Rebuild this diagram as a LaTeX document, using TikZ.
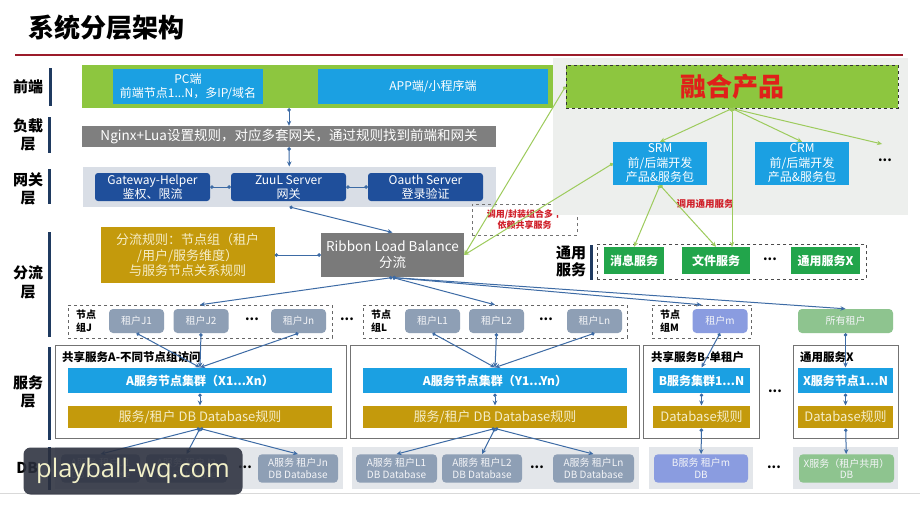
\documentclass[tikz,border=0pt]{standalone}
\usepackage{fontspec}
\setmainfont{Noto Sans CJK SC}
\newfontfamily\wmfont{Open Sans}
\usetikzlibrary{arrows.meta}

\definecolor{titlered}{HTML}{9B1B2A}
\definecolor{barblue}{HTML}{1F3A60}
\definecolor{fegreen}{HTML}{8DC63F}
\definecolor{skyblue}{HTML}{1BA0E2}
\definecolor{nggray}{HTML}{7F7F7F}
\definecolor{gatebg}{HTML}{D9DEE6}
\definecolor{gatedark}{HTML}{1F4F9B}
\definecolor{rulegold}{HTML}{C49A0C}
\definecolor{goldtext}{HTML}{F5EDC8}
\definecolor{ribgray}{HTML}{7A7A7A}
\definecolor{annred}{HTML}{D0202A}
\definecolor{prodred}{HTML}{E0201A}
\definecolor{panelbg}{HTML}{EDEFED}
\definecolor{tenantgray}{HTML}{8E9FB5}
\definecolor{tenantm}{HTML}{8A9CE0}
\definecolor{allgreen}{HTML}{8EC48F}
\definecolor{csgreen}{HTML}{22A54B}
\definecolor{dbpanelgray}{HTML}{E3E6EA}
\definecolor{lineblue}{HTML}{3D6BA5}
\definecolor{linegreen}{HTML}{9DCB5C}
\definecolor{wmdark}{HTML}{2B2F3D}
\definecolor{wmtext}{HTML}{F2F0C8}

\begin{document}
\begin{tikzpicture}[x=1pt, y=-1pt,
    every node/.style={inner sep=0pt, align=center},
    lay/.style={font=\fontsize{15}{18.5}\selectfont\bfseries},
    laybar/.style={draw=barblue, line width=3pt},
    sky/.style={fill=skyblue, text=white, font=\fontsize{12}{14.5}\selectfont},
    gate/.style={fill=gatedark, text=white, rounded corners=3pt, minimum width=115, minimum height=28, font=\fontsize{12}{14}\selectfont},
    tenant/.style={fill=tenantgray, text=white!90!tenantgray, rounded corners=4pt, minimum width=55, minimum height=24, font=\fontsize{10}{12}\selectfont},
    grpbox/.style={draw=black!60, dashed, minimum height=33},
    grplbl/.style={font=\fontsize{10}{13}\selectfont\bfseries, align=left, anchor=west},
    svcbox/.style={draw=black!55, line width=0.8pt, minimum height=93},
    svctitle/.style={font=\fontsize{11.5}{13}\selectfont\bfseries, anchor=west},
    clus/.style={fill=skyblue, text=white, minimum height=25.6, font=\fontsize{12}{14}\selectfont\bfseries},
    dbrule/.style={fill=rulegold, text=goldtext, minimum height=22.6, font=\fontsize{13}{15}\selectfont},
    dbpanel/.style={fill=dbpanelgray, minimum height=42.3},
    dbbox/.style={fill=tenantgray, text=white!90!tenantgray, rounded corners=4pt, minimum height=28.4, font=\fontsize{10}{11.5}\selectfont},
    cs/.style={fill=csgreen, text=white, minimum height=27, font=\fontsize{12}{14}\selectfont\bfseries},
    dots/.style={font=\fontsize{13}{13}\selectfont\bfseries},
    link/.style={draw=lineblue, line width=1pt, {Circle[length=3.5pt]}-{Stealth[length=5pt, width=4.5pt]}},
    glink/.style={draw=linegreen, line width=1pt, {Circle[length=3.5pt]}-{Stealth[length=5pt, width=4.5pt]}},
    dotline/.style={draw=lineblue, line width=1pt, {Circle[length=3.5pt]}-{Circle[length=3.5pt]}}]
    \useasboundingbox[fill=white] (0,0) rectangle (920,517);

    % Title
    \node[font=\fontsize{26}{28}\selectfont\bfseries, anchor=west] (title) at (28,28) {系统分层架构};
    \draw[titlered, line width=1.5pt] (15,55) -- (903,55);

    % Layer labels
    \node[lay] (Lfe) at (28,87) {前端};
    \node[lay] (Llb) at (28,135) {负载\\层};
    \node[lay] (Lgw) at (28,189) {网关\\层};
    \node[lay] (Lsp) at (28,282.5) {分流\\层};
    \node[lay] (Lsv) at (28,392) {服务\\层};
    \node[lay] (Ldb) at (27,468) {DB};
    \draw[laybar] (50,68) -- (50,106);
    \draw[laybar] (49,117) -- (49,153);
    \draw[laybar] (49,169) -- (49,204);
    \draw[laybar] (49,232) -- (49,337);
    \draw[laybar] (49,347) -- (49,440);
    \draw[laybar] (49,447) -- (49,490);

    % Front end
    \node[fill=fegreen, minimum width=473, minimum height=43] (fe) at (318.5,86.5) {};
    \node[sky, minimum width=150, minimum height=35] (pc) at (188,86.5) {PC端\\前端节点1...N，多IP/域名};
    \node[sky, minimum width=230, minimum height=35] (app) at (433,86.5) {APP端/小程序端};

    % Load layer and gateway
    \node[fill=nggray, text=white, minimum width=414, minimum height=21, font=\fontsize{13.5}{15}\selectfont] (nginx) at (289,136.5) {Nginx+Lua设置规则，对应多套网关，通过规则找到前端和网关};
    \node[fill=gatebg, minimum width=413, minimum height=40] (gw) at (289.5,186.7) {};
    \node[gate] (helper) at (152.5,187) {Gateway-Helper\\鉴权、限流};
    \node[gate] (zuul) at (288.5,187) {ZuuL Server\\网关};
    \node[gate] (oauth) at (425.5,187) {Oauth Server\\登录验证};

    % Split layer
    \node[fill=rulegold, text=goldtext, minimum width=174, minimum height=55.4, font=\fontsize{13}{15.5}\selectfont] (rule) at (187.5,255) {分流规则：节点组（租户\\/用户/服务维度）\\与服务节点关系规则};
    \node[fill=ribgray, text=white, minimum width=143, minimum height=44.6, font=\fontsize{13.5}{16}\selectfont] (ribbon) at (392.5,255) {Ribbon Load Balance\\分流};
    \node[draw=black!55, dashed, minimum width=105, minimum height=31, text=annred, font=\fontsize{9}{11}\selectfont\bfseries] (note) at (524.5,219.5) {调用/封装组合多个\\依赖共享服务};

    % Product panel
    \node[fill=panelbg, minimum width=355, minimum height=157] (panel) at (730.5,136.5) {};
    \node[fill=fegreen, draw=black!80, dashed, line width=1pt, minimum width=332, minimum height=43, text=prodred, font=\fontsize{26}{28}\selectfont\bfseries] (prod) at (732,86.5) {融合产品};
    \node[sky, minimum width=94, minimum height=43] (srm) at (660,163.5) {SRM\\前/后端开发\\产品\&服务包};
    \node[sky, minimum width=94, minimum height=43] (crm) at (802,163.5) {CRM\\前/后端开发\\产品\&服务包};
    \node[dots] (pdots) at (885,160) {...};
    \coordinate (pend) at (882,144);
    \node[text=annred, font=\fontsize{9.5}{11}\selectfont\bfseries] (calllbl) at (705,204) {调用通用服务};

    % Common services
    \node[lay, font=\fontsize{15}{17}\selectfont\bfseries] (Lcs) at (571,261.5) {通用\\服务};
    \draw[laybar] (591.7,245) -- (591.7,280);
    \node[draw=black!70, dashed, minimum width=269, minimum height=35.3] (csbox) at (731.5,261.7) {};
    \node[cs, minimum width=60] (msg) at (634,260.5) {消息服务};
    \node[cs, minimum width=68] (file) at (716,260.5) {文件服务};
    \node[dots] (csdots) at (770,259) {...};
    \node[cs, minimum width=69] (csx) at (825.5,260.5) {通用服务X};

    % Node groups
    \node[grpbox, minimum width=264] (grpJ) at (200,321.5) {};
    \node[grplbl] (grpJlbl) at (76,321.5) {节点\\组J};
    \node[tenant] (tJ1) at (136.5,321) {租户J1};
    \node[tenant] (tJ2) at (201,321) {租户J2};
    \node[dots] (Jdots) at (252,319) {...};
    \node[tenant] (tJn) at (298.5,321) {租户Jn};
    \node[dots] (grpdots) at (347,319) {...};
    \node[grpbox, minimum width=264] (grpL) at (495,321.5) {};
    \node[grplbl] (grpLlbl) at (371,321.5) {节点\\组L};
    \node[tenant] (tL1) at (432.5,321) {租户L1};
    \node[tenant] (tL2) at (496.5,321) {租户L2};
    \node[dots] (Ldots) at (546,319) {...};
    \node[tenant] (tLn) at (594.5,321) {租户Ln};
    \node[grpbox, minimum width=99] (grpM) at (701.5,321.5) {};
    \node[grplbl] (grpMlbl) at (660,321.5) {节点\\组M};
    \node[tenant, fill=tenantm] (tm) at (720,321) {租户m};
    \node[tenant, fill=allgreen, minimum width=95] (tall) at (845.5,321) {所有租户};

    % Service layer
    \node[svcbox, minimum width=291] (svcA1) at (200.5,391.5) {};
    \node[svcbox, minimum width=289] (svcA2) at (494.5,391.5) {};
    \node[svcbox, minimum width=116] (svcB) at (701,391.5) {};
    \node[svcbox, minimum width=105] (svcX) at (845.5,391.5) {};
    \node[svctitle] (tA1) at (62,357) {共享服务A-不同节点组访问};
    \node[svctitle] (tB) at (651,357) {共享服务B-单租户};
    \node[svctitle] (tX) at (800,357) {通用服务X};
    \node[clus, minimum width=264] (cA1) at (200,380.5) {A服务节点集群（X1...Xn）};
    \node[clus, minimum width=264] (cA2) at (495,380.5) {A服务节点集群（Y1...Yn）};
    \node[clus, minimum width=97] (cB) at (701.5,380.5) {B服务集群1...N};
    \node[clus, minimum width=95] (cX) at (845.5,380.5) {X服务节点1...N};
    \node[dbrule, minimum width=264] (rA1) at (200,417) {服务/租户 DB Database规则};
    \node[dbrule, minimum width=264] (rA2) at (495,417) {服务/租户 DB Database规则};
    \node[dbrule, minimum width=97] (rB) at (701.5,417) {Database规则};
    \node[dbrule, minimum width=95] (rX) at (845.5,417) {Database规则};
    \node[dots] (svdots) at (775,391) {...};

    % DB layer
    \node[dbpanel, minimum width=288] (dpA1) at (199,468) {};
    \node[dbpanel, minimum width=287] (dpA2) at (495.5,468) {};
    \node[dbpanel, minimum width=104] (dpB) at (701,468) {};
    \node[dbpanel, minimum width=105] (dpX) at (845.5,468) {};
    \node[dbbox, minimum width=79] (dJ1) at (100.5,468.5) {A服务 租户J1\\DB Database};
    \node[dbbox, minimum width=81] (dJ2) at (186.5,468.5) {A服务 租户J2\\DB Database};
    \node[dots] (dJdots) at (245,467) {...};
    \node[dbbox, minimum width=80] (dJn) at (298,468.5) {A服务 租户Jn\\DB Database};
    \node[dbbox, minimum width=81] (dL1) at (396.5,468.5) {A服务 租户L1\\DB Database};
    \node[dbbox, minimum width=80] (dL2) at (482,468.5) {A服务 租户L2\\DB Database};
    \node[dots] (dLdots) at (537,467) {...};
    \node[dbbox, minimum width=81] (dLn) at (593.5,468.5) {A服务 租户Ln\\DB Database};
    \node[dbbox, fill=tenantm, minimum width=94] (dB) at (701,468.5) {B服务 租户m\\DB};
    \node[dots] (ddots) at (774,467) {...};
    \node[dbbox, fill=allgreen, minimum width=95] (dX) at (846.5,468.5) {X服务（租户共用）\\DB};
    \draw[black!15] (0,493) -- (920,493);

    % Arrows
    \draw[link] (fe.south -| nginx) -- (nginx);
    \draw[link] (nginx) -- (gw);
    \draw[dotline] (helper) -- (zuul);
    \draw[dotline] (zuul) -- (oauth);
    \draw[link] (gw.south) -- (ribbon.north);
    \draw[dotline] (rule) -- (ribbon);
    \draw[link] (ribbon.south) -- (grpJ.north);
    \draw[link] (ribbon.south) -- (grpL.north);
    \draw[link] (ribbon.south) -- (grpM.north);
    \draw[link] (ribbon.south) -- (tall.north);
    \foreach \t in {tJ1,tJ2,tJn}
        \draw[link] (\t.south) -- (cA1.north);
    \foreach \t in {tL1,tL2,tLn}
        \draw[link] (\t.south) -- (cA2.north);
    \draw[link] (tm.south) -- (cB.north);
    \draw[link] (tall.south) -- (cX.north);
    \draw[link] (cA1) -- (rA1);
    \draw[link] (cA2) -- (rA2);
    \draw[link] (cB) -- (rB);
    \draw[link] (cX) -- (rX);
    \foreach \d in {dJ1,dJ2,dJn}
        \draw[link] (rA1.south) -- (\d.north);
    \foreach \d in {dL1,dL2,dLn}
        \draw[link] (rA2.south) -- (\d.north);
    \draw[link] (rB) -- (dB);
    \draw[link] (rX) -- (dX);

    % Product links
    \draw[glink] (prod.west) -- (ribbon.east);
    \draw[glink] (srm.west) -- (ribbon.east);
    \draw[glink] (prod.south) -- (srm.north);
    \draw[glink] (prod.south) -- (crm.north);
    \draw[glink] (prod.south) -- (pend);
    \draw[glink] (prod.south) -- (prod.south |- file.north);
    \draw[glink] (srm.south) -- (msg.north);
    \draw[glink] (srm.south) -- (file.north);

    % Watermark
    \node[fill=wmdark, fill opacity=0.88, text opacity=1, rounded corners=7pt, minimum width=219, minimum height=47, text=wmtext, font=\wmfont\fontsize{25.5}{27}\selectfont] (wm) at (133,471) {playball-wq.com};
\end{tikzpicture}
\end{document}
